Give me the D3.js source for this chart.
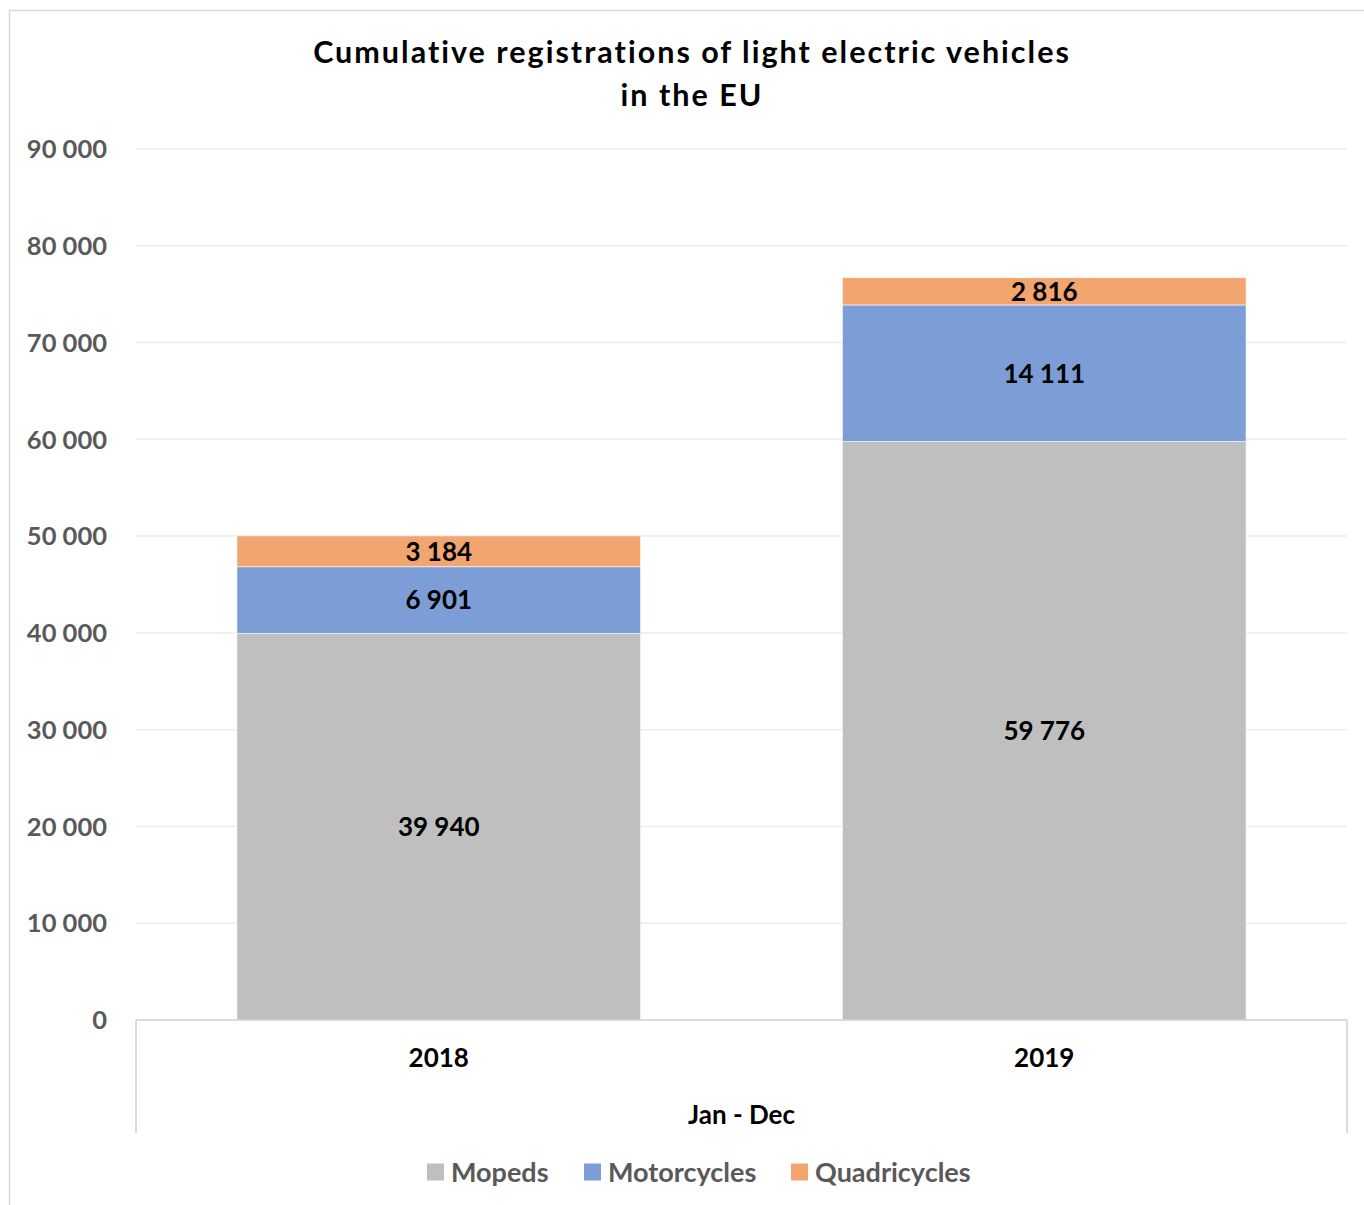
<!DOCTYPE html>
<html>
<head>
<meta charset="utf-8">
<script src="https://cdn.jsdelivr.net/npm/d3@7"></script>
<style>
  body { margin: 0; background: #fff; }
  text { font-family: Lato, "Open Sans", sans-serif; font-weight: bold; }
</style>
</head>
<body>
<div id="chart"></div>
<script>
// data
const years = ["2018", "2019"];
const seriesNames = ["Mopeds", "Motorcycles", "Quadricycles"];
const mopeds = [39940, 59776];
const motorcycles = [6901, 14111];
const quadricycles = [3184, 2816];
const yTicks = [0, 10000, 20000, 30000, 40000, 50000, 60000, 70000, 80000, 90000];
const titleLines = ["Cumulative registrations of light electric vehicles", "in the EU"];
const axisTitle = "Jan - Dec";

const colors = { Mopeds: "#bfbfbf", Motorcycles: "#7c9dd5", Quadricycles: "#f2a56f" };

const size = { width: 1364, height: 1205 };
const margin = { top: 149, right: 17, bottom: 185, left: 136 };

const rows = years.map((y, i) => ({
  year: y,
  Mopeds: mopeds[i],
  Motorcycles: motorcycles[i],
  Quadricycles: quadricycles[i]
}));

const svg = d3.select("#chart").append("svg")
  .attr("width", size.width)
  .attr("height", size.height);

// outer chart frame
svg.append("rect")
  .attr("x", 9.5).attr("y", 10.5)
  .attr("width", 1400).attr("height", 1300)
  .attr("fill", "none")
  .attr("stroke", "#d9d9d9")
  .attr("stroke-width", 1.5);

const x = d3.scaleBand()
  .domain(years)
  .range([margin.left, size.width - margin.right])
  .paddingInner(1 / 3)
  .paddingOuter(1 / 6);

const y = d3.scaleLinear()
  .domain([0, 90000])
  .range([size.height - margin.bottom, margin.top]);

const fmt = v => d3.format(",")(v).replace(/,/g, " ");

// gridlines
svg.append("g")
  .selectAll("line")
  .data(yTicks.filter(t => t > 0))
  .join("line")
  .attr("x1", margin.left)
  .attr("x2", size.width - margin.right)
  .attr("y1", d => y(d))
  .attr("y2", d => y(d))
  .attr("stroke", "#ececec")
  .attr("stroke-width", 1.5);

// y tick labels
svg.append("g")
  .selectAll("text")
  .data(yTicks)
  .join("text")
  .attr("x", 107)
  .attr("y", d => y(d))
  .attr("dy", "0.36em")
  .attr("text-anchor", "end")
  .attr("fill", "#595959")
  .attr("font-size", 25.5)
  .text(d => fmt(d));

// stacked bars
const stack = d3.stack().keys(seriesNames);
const layers = stack(rows);

const layerG = svg.append("g")
  .selectAll("g")
  .data(layers)
  .join("g")
  .attr("fill", d => colors[d.key]);

layerG.selectAll("rect")
  .data(d => d)
  .join("rect")
  .attr("x", d => x(d.data.year))
  .attr("width", x.bandwidth())
  .attr("y", d => y(d[1]))
  .attr("height", d => y(d[0]) - y(d[1]))
  .attr("stroke", "rgba(255,255,255,0.6)")
  .attr("stroke-width", 1);

// data labels
layerG.selectAll("text")
  .data(d => d.map(v => ({ v, key: d.key })))
  .join("text")
  .attr("x", d => x(d.v.data.year) + x.bandwidth() / 2)
  .attr("y", d => y((d.v[0] + d.v[1]) / 2))
  .attr("dy", "0.36em")
  .attr("text-anchor", "middle")
  .attr("fill", "#000")
  .attr("font-size", 26)
  .text(d => fmt(d.v.data[d.key]));

// category axis (multi-level style)
const x0 = margin.left, x1 = size.width - margin.right, yBase = y(0);
const axisG = svg.append("g").attr("stroke", "#d0d0d0").attr("stroke-width", 1.5);
axisG.append("line").attr("x1", x0).attr("x2", x1).attr("y1", yBase).attr("y2", yBase);
axisG.append("line").attr("x1", x0).attr("x2", x0).attr("y1", yBase).attr("y2", 1133);
axisG.append("line").attr("x1", x1).attr("x2", x1).attr("y1", yBase).attr("y2", 1133);

svg.append("g")
  .selectAll("text")
  .data(years)
  .join("text")
  .attr("x", d => x(d) + x.bandwidth() / 2)
  .attr("y", 1058)
  .attr("dy", "0.36em")
  .attr("text-anchor", "middle")
  .attr("fill", "#000")
  .attr("font-size", 26)
  .text(d => d);

svg.append("text")
  .attr("x", (x0 + x1) / 2)
  .attr("y", 1115)
  .attr("dy", "0.36em")
  .attr("text-anchor", "middle")
  .attr("fill", "#000")
  .attr("font-size", 26)
  .text(axisTitle);

// title
svg.append("g")
  .selectAll("text")
  .data(titleLines)
  .join("text")
  .attr("x", 692)
  .attr("y", (d, i) => 52 + i * 43)
  .attr("dy", "0.36em")
  .attr("text-anchor", "middle")
  .attr("fill", "#000")
  .attr("font-size", 30.5)
  .attr("letter-spacing", 2)
  .text(d => d);

// legend
const legend = svg.append("g");
const legendX = [427, 584, 791];
const lg = legend.selectAll("g")
  .data(seriesNames)
  .join("g")
  .attr("transform", (d, i) => `translate(${legendX[i]},1172)`);
lg.append("rect")
  .attr("x", 0).attr("y", -8.5)
  .attr("width", 17).attr("height", 17)
  .attr("fill", d => colors[d]);
lg.append("text")
  .attr("x", 24)
  .attr("dy", "0.36em")
  .attr("fill", "#595959")
  .attr("font-size", 27)
  .text(d => d);
</script>
</body>
</html>
